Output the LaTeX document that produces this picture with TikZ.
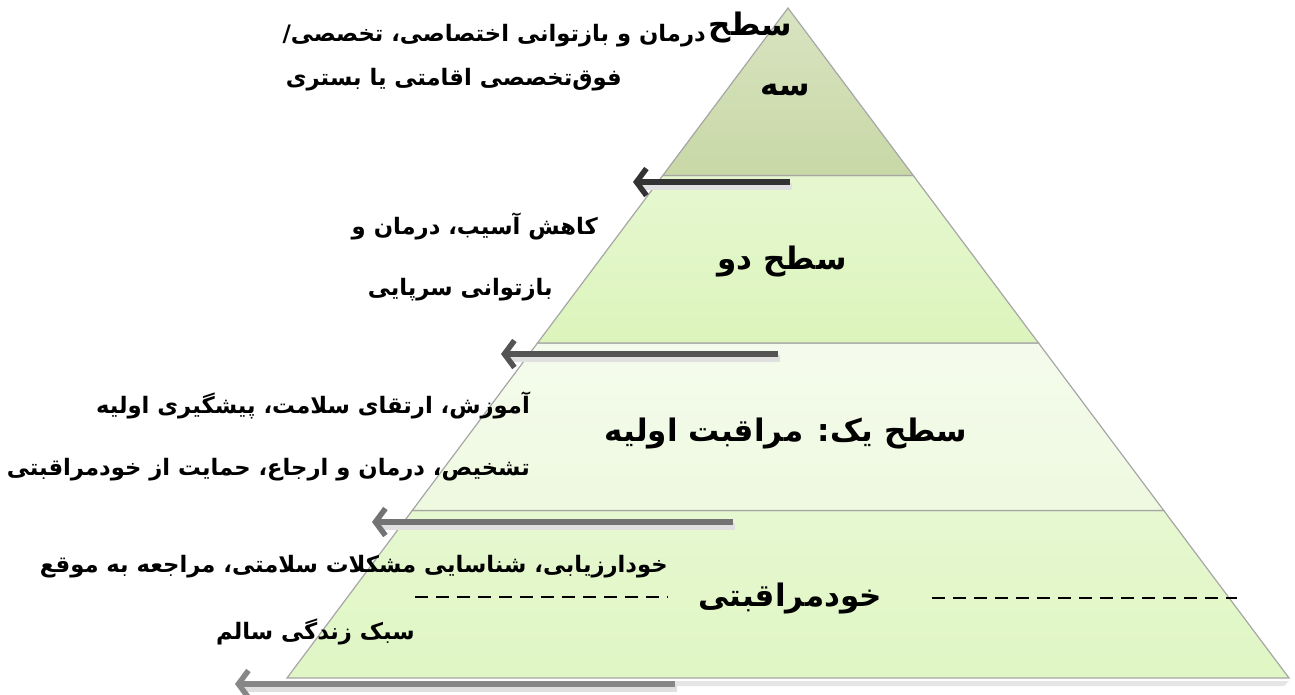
\documentclass[tikz,border=0pt]{standalone}
\usepackage{fontspec}
\usepackage{xcolor}
\usepackage{tikz}
\usetikzlibrary{positioning,arrows.meta}
\newfontfamily\arabicfont[Script=Arabic]{DejaVu Sans}
\TeXXeTstate=1
\definecolor{tierthree}{HTML}{C8D8A6}
\definecolor{tiertwo}{HTML}{DCF4BC}
\definecolor{tierone}{HTML}{EEF9E0}
\definecolor{tierzero}{HTML}{E0F6C4}
\tikzset{lvl/.style={draw=black!35,line width=1.2pt},
         levelname/.style={font=\arabicfont\bfseries\fontsize{31}{36}\selectfont,inner sep=0pt},
         task/.style={font=\arabicfont\bfseries\fontsize{22.7}{27}\selectfont,inner sep=0pt,anchor=east},
         back/.style={line width=5.5pt,->},
         backshadow/.style={line width=7pt,black!12},
         sep/.style={line width=1.8pt,dash pattern=on 13pt off 8pt}}

\begin{document}
\begin{tikzpicture}[x=1pt,y=-1pt,>={Straight Barb[length=10pt,width=27pt]}]
        \useasboundingbox (0,0) rectangle (1295,694);

        % the four levels
        \fill[black!10] (287,681) -- (1289,681) -- (1284,686) -- (292,686) -- cycle;
        \draw[lvl,top color=tierzero!80,bottom color=tierzero] (412.25,510.5) -- (1163.75,510.5) -- (1289,678) -- (287,678) -- cycle;
        \draw[lvl,top color=tierone!60,bottom color=tierone] (537.5,343) -- (1038.5,343) -- (1163.75,510.5) -- (412.25,510.5) -- cycle;
        \draw[lvl,top color=tiertwo!70,bottom color=tiertwo] (662.75,175.5) -- (913.25,175.5) -- (1038.5,343) -- (537.5,343) -- cycle;
        \draw[lvl,top color=tierthree!70,bottom color=tierthree] (788,8) -- (913.25,175.5) -- (662.75,175.5) -- cycle;

        % arrows
        \coordinate (a3) at (790,182);
        \coordinate (b3) at (633,182);
        \coordinate (a2) at (778,354);
        \coordinate (b2) at (501,354);
        \coordinate (a1) at (733,522);
        \coordinate (b1) at (372,522);
        \coordinate (a0) at (675,684);
        \coordinate (b0) at (235,684);

        \draw [backshadow] ([shift={(2,4)}]a3) to [] ([shift={(8,4)}]b3);
        \draw [backshadow] ([shift={(2,4)}]a2) to [] ([shift={(8,4)}]b2);
        \draw [backshadow] ([shift={(2,4)}]a1) to [] ([shift={(8,4)}]b1);
        \draw [backshadow] ([shift={(2,4)}]a0) to [] ([shift={(8,4)}]b0);
        \draw [back,black!80] (a3) to [] (b3);
        \draw [back,black!67] (a2) to [] (b2);
        \draw [back,black!55] (a1) to [] (b1);
        \draw [back,black!47] (a0) to [] (b0);

        % level names
        \node[levelname,anchor=east] (s3a) at (792,28) {\beginR سطح\endR};
        \node[levelname] (s3b) at (785,90) {\beginR سه\endR};
        \node[levelname] (s2) at (782,262) {\beginR سطح دو\endR};
        \node[levelname] (s1) at (786,433) {\beginR سطح یک: مراقبت اولیه\endR};
        \node[levelname] (s0) at (790,598) {\beginR خودمراقبتی\endR};

        % services
        \node[task] (t3a) at (706,36) {\beginR درمان و بازتوانی اختصاصی، تخصصی/\endR};
        \node[task] (t3b) at (622,80) {\beginR فوق‌تخصصی اقامتی یا بستری\endR};
        \node[task] (t2a) at (598,226) {\beginR کاهش آسیب، درمان و\endR};
        \node[task] (t2b) at (553,290) {\beginR بازتوانی سرپایی\endR};
        \node[task] (t1a) at (530,405) {\beginR آموزش، ارتقای سلامت، پیشگیری اولیه\endR};
        \node[task] (t1b) at (530,470) {\beginR تشخیص، درمان و ارجاع، حمایت از خودمراقبتی\endR};
        \node[task] (t0a) at (668,567) {\beginR خودارزیابی، شناسایی مشکلات سلامتی، مراجعه به موقع\endR};
        \node[task] (t0b) at (415,632) {\beginR سبک زندگی سالم\endR};

        % dashes beside self care
        \coordinate (d1) at (415,597);
        \coordinate (d2) at (668,597);
        \coordinate (d3) at (932,598);
        \coordinate (d4) at (1237,598);
        \draw [sep] (d1) to [] (d2);
        \draw [sep] (d3) to [] (d4);
    \end{tikzpicture}
\end{document}
